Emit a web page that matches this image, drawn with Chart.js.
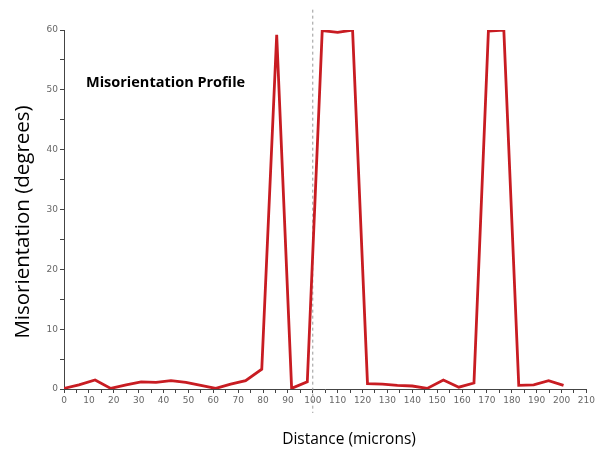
<!DOCTYPE html>
<html>
<head>
<meta charset="utf-8">
<script src="https://cdn.jsdelivr.net/npm/chart.js@4/dist/chart.umd.min.js"></script>
<style>
  html, body { margin: 0; padding: 0; background: #fff; }
  #wrap { width: 597px; height: 452px; position: relative; }
</style>
</head>
<body>
<div id="wrap"><canvas id="profileChart" width="597" height="452"></canvas></div>
<script>
// Misorientation profile along the line scan
const distance = [0, 6, 12.5, 18.8, 25, 31, 37, 43, 49, 55, 61, 67, 73, 79.5, 85.5, 91.5, 97.8,
  103.8, 110, 116, 122, 128, 134, 140, 146, 152.5, 158.7, 164.8, 170.6, 176.8, 182.8, 188.8, 194.8, 200.8];
const misorientation = [0.1, 0.7, 1.5, 0.1, 0.7, 1.2, 1.1, 1.4, 1.1, 0.6, 0.1, 0.8, 1.4, 3.3, 59.2, 0.1, 1.2,
  59.9, 59.6, 60, 0.9, 0.8, 0.6, 0.5, 0.1, 1.5, 0.3, 1.0, 59.8, 60, 0.6, 0.7, 1.4, 0.6];

// dashed marker at 100 microns
const markerX = [100, 100];
const markerY = [63.4, -4];

const xTicks = { min: 0, max: 210, step: 5, labelEvery: 10 };
const yTicks = { min: 0, max: 60, step: 5, labelEvery: 10 };

const FONT = "'Open Sans', sans-serif";
const TICK_FONT = "'DejaVu Sans', sans-serif";

// free text: chart title and axis titles
const textLabels = {
  id: 'textLabels',
  afterDraw(chart) {
    const ctx = chart.ctx;
    ctx.save();
    ctx.fillStyle = '#000';
    ctx.textBaseline = 'middle';

    ctx.font = "bold 14.5px " + FONT;
    ctx.textAlign = 'left';
    ctx.fillText('Misorientation Profile', 86, 83);

    ctx.font = "15.5px " + FONT;
    ctx.textAlign = 'center';
    ctx.fillText('Distance (microns)', 349, 440);

    ctx.translate(23, 222);
    ctx.rotate(-Math.PI / 2);
    ctx.font = "20.5px " + FONT;
    ctx.fillText('Misorientation (degrees)', 0, 0);
    ctx.restore();
  }
};

function initChart() {
  const ctx = document.getElementById('profileChart').getContext('2d');
  new Chart(ctx, {
    type: 'line',
    data: {
      datasets: [
        {
          data: distance.map((d, i) => ({ x: d, y: misorientation[i] })),
          borderColor: '#c81c22',
          borderWidth: 2.8,
          pointRadius: 0,
          tension: 0,
          order: 1
        },
        {
          data: markerX.map((d, i) => ({ x: d, y: markerY[i] })),
          borderColor: '#9a9a9a',
          borderWidth: 1,
          borderDash: [3, 3],
          pointRadius: 0,
          clip: false,
          order: 2
        }
      ]
    },
    options: {
      responsive: false,
      animation: false,
      layout: { padding: { left: 0, top: 30, right: 9, bottom: 0 } },
      plugins: { legend: { display: false }, tooltip: { enabled: false } },
      scales: {
        x: {
          type: 'linear',
          min: xTicks.min,
          max: xTicks.max,
          afterFit: s => { s.height = 63; },
          border: { color: '#444', width: 1 },
          grid: { drawOnChartArea: false, color: '#444', tickLength: 4 },
          ticks: {
            stepSize: xTicks.step,
            autoSkip: false,
            maxRotation: 0,
            padding: 2,
            color: '#666',
            font: { family: TICK_FONT, size: 9 },
            callback: v => (v % xTicks.labelEvery === 0 ? v : '')
          }
        },
        y: {
          min: yTicks.min,
          max: yTicks.max,
          afterFit: s => { s.width = 64; },
          border: { color: '#444', width: 1 },
          grid: { drawOnChartArea: false, color: '#444', tickLength: 4 },
          ticks: {
            stepSize: yTicks.step,
            autoSkip: false,
            padding: 2,
            color: '#666',
            font: { family: TICK_FONT, size: 9 },
            callback: v => (v % yTicks.labelEvery === 0 ? v : '')
          }
        }
      }
    },
    plugins: [textLabels]
  });
}

document.addEventListener('DOMContentLoaded', initChart);
</script>
</body>
</html>
